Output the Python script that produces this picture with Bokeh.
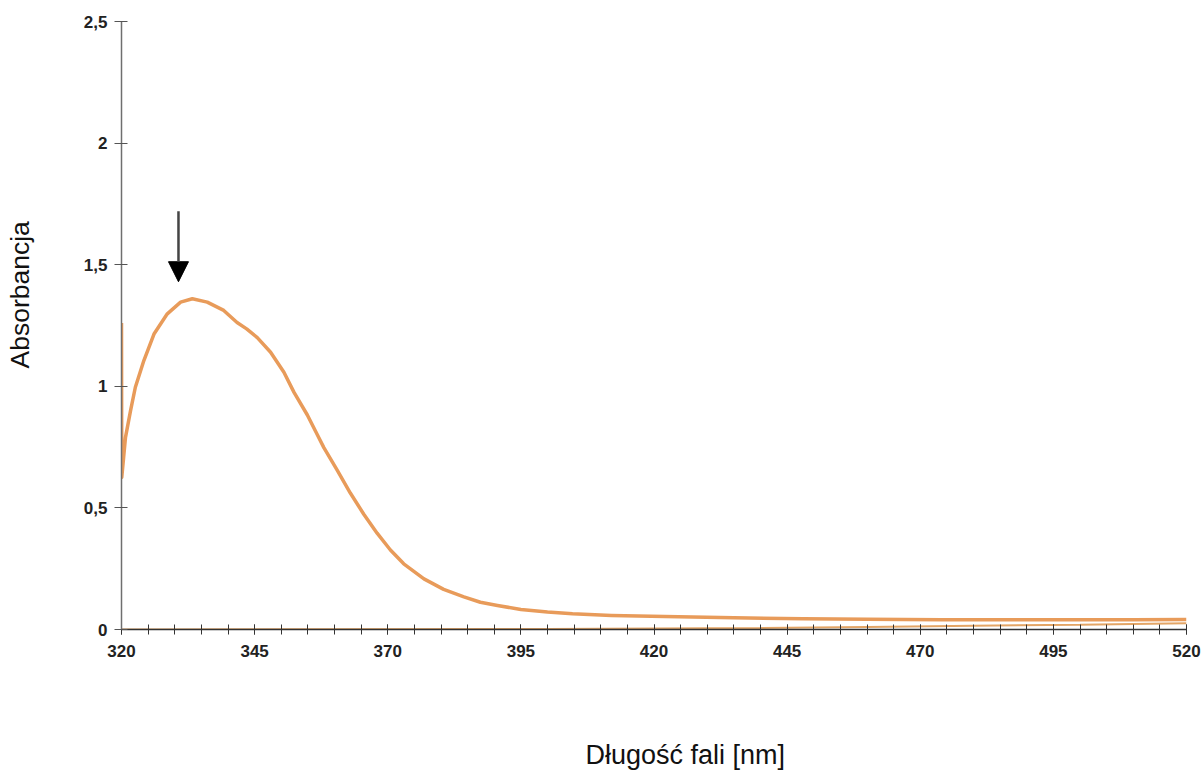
from bokeh.embed import file_html
from bokeh.models import Arrow, FixedTicker, LinearAxis, NormalHead, Range1d, Title
from bokeh.plotting import figure
from bokeh.resources import INLINE

# Absorption spectrum (wavelength in nm, absorbance)
wavelength = [320.0, 320.05, 320.4, 320.75, 321.7, 322.6, 324.2, 326.1, 328.6,
              331.1, 333.3, 336.1, 339.2, 341.7, 343.5, 345.5, 348.0, 350.5,
              352.4, 354.9, 356.8, 358.0, 360.5, 363.0, 365.5, 368.0, 370.5,
              373.0, 376.8, 380.5, 384.3, 387.4, 390.6, 395.0, 400.0, 404.7,
              412.0, 422.0, 435.0, 448.0, 460.0, 474.0, 487.0, 500.0, 510.0,
              520.0]
absorbance = [1.26, 0.626, 0.708, 0.79, 0.90, 0.996, 1.106, 1.215, 1.298,
              1.346, 1.360, 1.346, 1.312, 1.262, 1.236, 1.200, 1.140, 1.058,
              0.975, 0.882, 0.800, 0.748, 0.655, 0.560, 0.474, 0.396, 0.327,
              0.270, 0.208, 0.165, 0.134, 0.112, 0.099, 0.082, 0.072, 0.065,
              0.058, 0.053, 0.048, 0.044, 0.042, 0.040, 0.040, 0.040, 0.040,
              0.041]

# Reference baseline recorded with the sample
baseline_wl = [320, 400, 440, 460, 480, 500, 520]
baseline_abs = [0.0, 0.002, 0.006, 0.010, 0.015, 0.020, 0.026]

x_ticks = [320, 345, 370, 395, 420, 445, 470, 495, 520]
x_minor = list(range(320, 521, 5))
y_ticks = [0, 0.5, 1, 1.5, 2, 2.5]
y_labels = ["0", "0,5", "1", "1,5", "2", "2,5"]

# Peak marker arrow (nm, absorbance of tail and tip)
arrow_wl = 330.7
arrow_tail = 1.72
arrow_tip = 1.43

p = figure(width=1202, height=773, output_backend="svg", toolbar_location=None,
           x_range=Range1d(320, 520), y_range=Range1d(0, 2.5),
           min_border_left=121, min_border_right=16, min_border_top=21,
           min_border_bottom=144)
p.outline_line_color = None
p.grid.visible = False
p.background_fill_color = "white"
p.border_fill_color = "white"

orange = "#E89B5A"
p.line(baseline_wl, baseline_abs, line_color="#E3A566", line_width=2)
p.line(wavelength, absorbance, line_color=orange, line_width=3.5,
       line_join="round")

xa = p.xaxis[0]
xa.ticker = FixedTicker(ticks=x_ticks, minor_ticks=x_minor)
xa.axis_line_color = "#333333"
xa.axis_line_width = 1.5
xa.major_tick_line_color = "#333333"
xa.minor_tick_line_color = "#333333"
xa.major_tick_in = 5
xa.major_tick_out = 5
xa.minor_tick_in = 5
xa.minor_tick_out = 5
xa.major_label_standoff = 10
xa.major_label_text_font = "Liberation Sans"
xa.major_label_text_font_style = "bold"
xa.major_label_text_font_size = "17px"
xa.major_label_text_color = "#222222"

ya = p.yaxis[0]
ya.ticker = FixedTicker(ticks=y_ticks)
ya.major_label_overrides = {t: s for t, s in zip(y_ticks, y_labels)}
ya.axis_line_color = "#6f6f6f"
ya.axis_line_width = 1.5
ya.major_tick_line_color = "#555555"
ya.major_tick_in = 6
ya.major_tick_out = 7
ya.minor_tick_line_color = None
ya.major_label_standoff = 7
ya.major_label_text_font = "Liberation Sans"
ya.major_label_text_font_style = "bold"
ya.major_label_text_font_size = "17px"
ya.major_label_text_color = "#222222"


def spacer(gap, tick):
    # blank axis that only reserves room between the tick labels and a title
    return LinearAxis(ticker=FixedTicker(ticks=[tick], minor_ticks=[]),
                      major_tick_out=gap, major_tick_in=0,
                      axis_line_color=None, major_tick_line_color=None,
                      minor_tick_line_color=None,
                      major_label_text_color=None,
                      major_label_text_font_size="1px",
                      major_label_standoff=0)


p.add_layout(spacer(78, 420), "below")
p.add_layout(spacer(45, 1.25), "left")

p.add_layout(Title(text="Długość fali [nm]", align="left", offset=464,
                   vertical_align="bottom", standoff=0,
                   text_font="Liberation Sans", text_font_size="27px",
                   text_font_style="normal", text_color="#111111"), "below")
p.add_layout(Title(text="Absorbancja", align="left", offset=261,
                   vertical_align="middle", standoff=0,
                   text_font="Liberation Sans", text_font_size="26.5px",
                   text_font_style="normal", text_color="#111111"), "left")

p.add_layout(Arrow(end=NormalHead(size=20, fill_color="black", line_color="black"),
                   x_start=arrow_wl, y_start=arrow_tail, x_end=arrow_wl, y_end=arrow_tip,
                   line_color="#444444", line_width=2.5))

open("out.html", "w").write(file_html(p, INLINE))
